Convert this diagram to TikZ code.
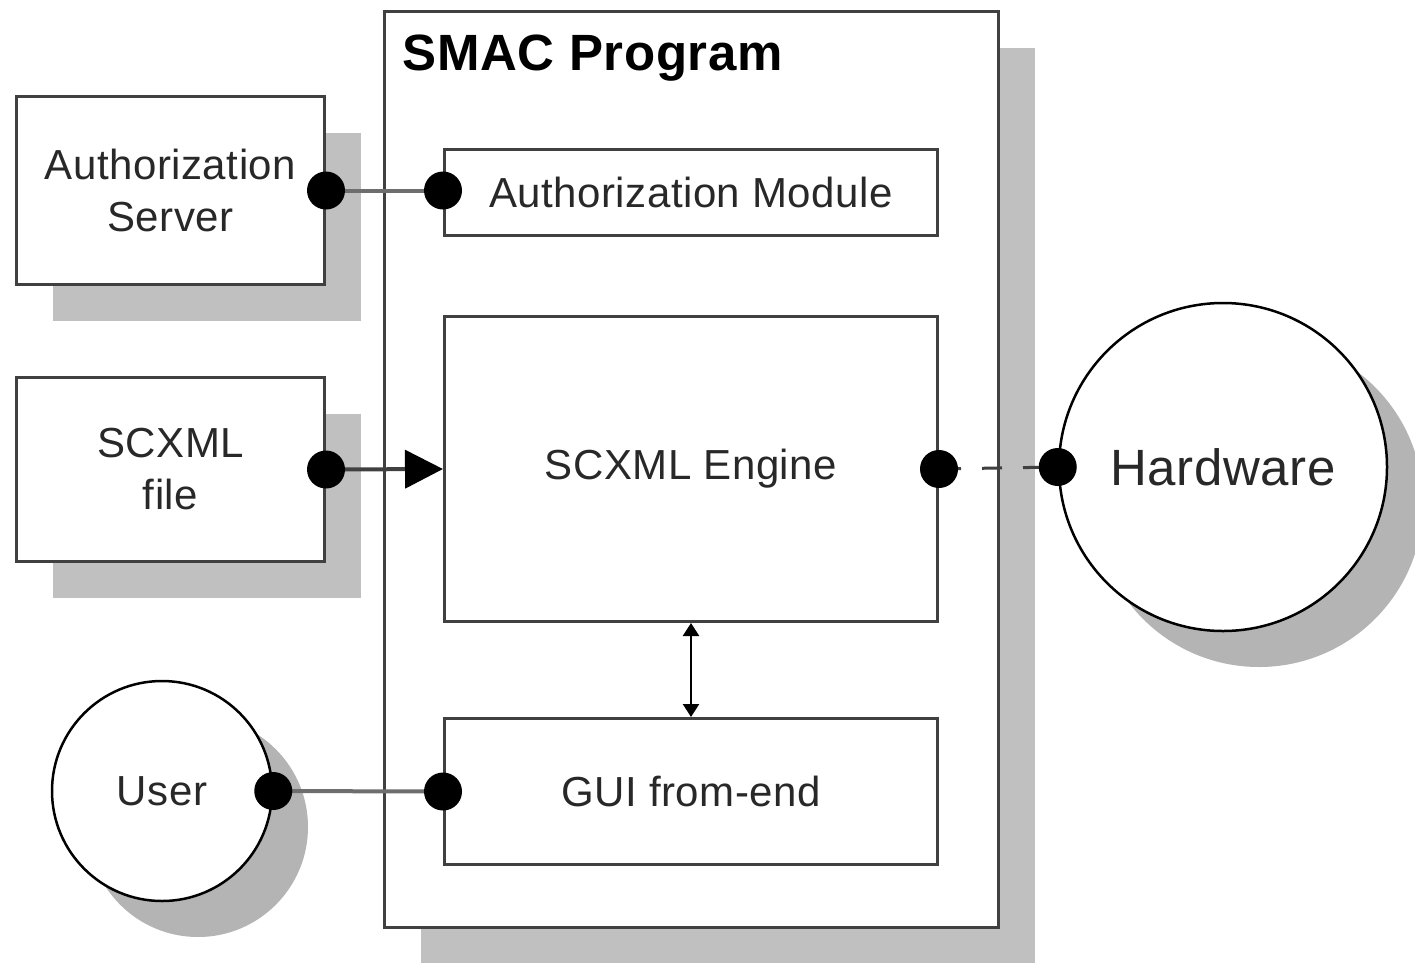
\documentclass[tikz,border=0pt]{standalone}
\usepackage{fontspec}
\setmainfont{Liberation Sans}[LetterSpace=1.2]
\usetikzlibrary{arrows.meta,shadows}
\definecolor{edge}{RGB}{64,64,64}
\definecolor{wire}{RGB}{110,110,110}
\definecolor{shade}{RGB}{192,192,192}
\definecolor{cshade}{RGB}{180,180,180}
\definecolor{ink}{RGB}{40,40,40}
\begin{document}
\begin{tikzpicture}[x=1pt,y=-1pt,
  txt/.style={font=\fontsize{42}{52}\selectfont, text=ink, align=center},
  box/.style={draw=edge, line width=3pt, fill=white, inner sep=0pt, anchor=north west, txt},
  shadowed/.style={drop shadow={shadow xshift=36pt, shadow yshift=-36pt, fill=#1, opacity=1}},
  shadowed/.default=shade,
  ring/.style={circle, draw=black, line width=2.5pt, fill=white, inner sep=0pt, txt},
  wirestyle/.style={draw=wire, line width=4pt},
  dot/.style={fill=black},
]
\useasboundingbox (0,0) rectangle (1415,962);

% outer program container
\node[box, shadowed, minimum width=614pt, minimum height=916pt] (smac) at (383,10) {};
\node[anchor=base west, font=\fontsize{51}{60}\selectfont\bfseries, text=black] (title) at (399,70) {SMAC Program};

% external actors
\node[box, shadowed, minimum width=308pt, minimum height=188pt] (auth) at (15,95) {Authorization\\Server};
\node[box, shadowed, minimum width=308pt, minimum height=184pt] (file) at (15,376) {SCXML\\file};
\node[ring, shadowed=cshade, minimum size=220pt] (user) at (162,791) {User};
\node[ring, shadowed=cshade, minimum size=328pt, font=\fontsize{51}{60}\selectfont] (hw) at (1223,467) {Hardware};

% inner modules
\node[box, minimum width=493pt, minimum height=86pt] (mod) at (443,148) {Authorization Module};
\node[box, minimum width=493pt, minimum height=305pt] (eng) at (443,315) {SCXML Engine};
\node[box, minimum width=493pt, minimum height=146pt] (gui) at (443,717) {GUI from-end};

% connectors
\draw[wirestyle] (auth.east) -- (auth.east -| mod.west);
\fill[dot] (auth.east) circle (19);
\fill[dot] (auth.east -| mod.west) circle (19);

\draw[draw=edge, line width=4pt, -{Triangle[length=38pt,width=38pt,color=black]}] (file.east) -- (eng.west);
\fill[dot] (file.east) circle (19);

\draw[wirestyle] (user.east) -- (gui.west);
\fill[dot] (user.east) circle (19);
\fill[dot] (gui.west) circle (19);

\draw[draw=edge, line width=3pt, dash pattern=on 20pt off 21pt, dash phase=-2pt] (eng.east) -- (hw.west);
\fill[dot] (eng.east) circle (19);
\fill[dot] (hw.west) circle (19);

\draw[black, line width=2.5pt, {Triangle[length=13pt,width=16pt]}-{Triangle[length=13pt,width=16pt]}] (eng.south) -- (gui.north);
\end{tikzpicture}
\end{document}
